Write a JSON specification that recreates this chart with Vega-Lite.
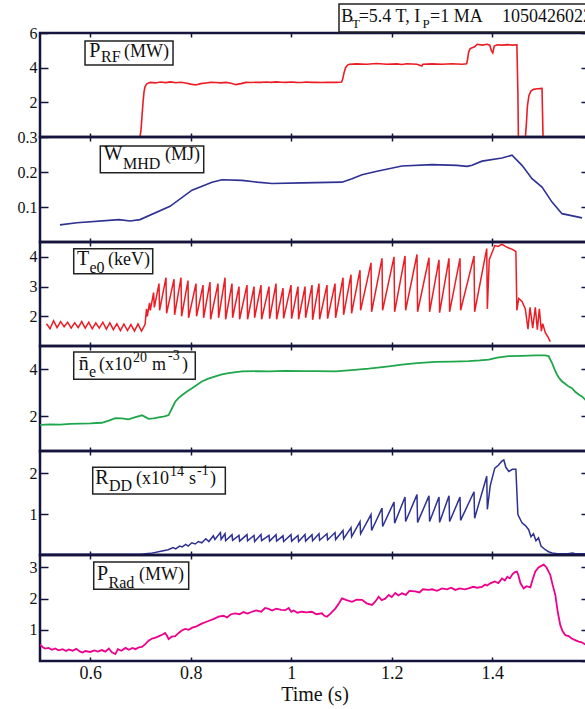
{
"$schema": "https://vega.github.io/schema/vega-lite/v6.json",
"background": "white",
"padding": {"left": 15, "top": 1, "right": 0, "bottom": 0},
"autosize": {"type": "pad"},
"spacing": 0,
"bounds": "flush",
"config": {
  "view": {"stroke": "#14143c", "strokeWidth": 2.5},
  "font": "Liberation Serif",
  "axis": {"domain": false, "grid": false, "tickColor": "#14143c", "tickWidth": 1.5, "labelFont": "Liberation Serif", "labelColor": "#111", "titleFont": "Liberation Serif", "titleFontWeight": "normal", "titleColor": "#111"},
  "axisY": {"tickSize": -8, "labelFontSize": 16, "labelPadding": 11, "labelFont": "Liberation Serif"},
  "axisX": {"tickSize": -4, "labelFontSize": 18, "labelPadding": 7, "labelFont": "Liberation Serif", "titleFont": "Liberation Serif"},
  "text": {"font": "Liberation Serif", "align": "left", "baseline": "alphabetic", "color": "#111"}
},
"datasets": {
  "rf": [{"t":0.5,"v":0},{"t":0.699,"v":0},{"t":0.701,"v":0.4},{"t":0.703,"v":1.2},{"t":0.705,"v":2.0},{"t":0.707,"v":2.6},{"t":0.709,"v":2.9},{"t":0.712,"v":3.05},{"t":0.716,"v":3.12},{"t":0.72,"v":3.15},{"t":0.73,"v":3.12},{"t":0.74,"v":3.17},{"t":0.75,"v":3.14},{"t":0.76,"v":3.18},{"t":0.77,"v":3.13},{"t":0.78,"v":3.16},{"t":0.79,"v":3.12},{"t":0.8,"v":3.05},{"t":0.81,"v":3.0},{"t":0.82,"v":3.08},{"t":0.83,"v":3.12},{"t":0.84,"v":3.15},{"t":0.85,"v":3.14},{"t":0.86,"v":3.12},{"t":0.87,"v":3.15},{"t":0.88,"v":3.1},{"t":0.89,"v":3.02},{"t":0.9,"v":3.08},{"t":0.91,"v":3.15},{"t":0.92,"v":3.14},{"t":0.93,"v":3.16},{"t":0.94,"v":3.15},{"t":0.95,"v":3.17},{"t":0.96,"v":3.15},{"t":0.97,"v":3.18},{"t":0.98,"v":3.16},{"t":0.99,"v":3.15},{"t":1.0,"v":3.17},{"t":1.01,"v":3.15},{"t":1.02,"v":3.14},{"t":1.03,"v":3.17},{"t":1.04,"v":3.15},{"t":1.05,"v":3.16},{"t":1.06,"v":3.14},{"t":1.07,"v":3.16},{"t":1.08,"v":3.15},{"t":1.09,"v":3.15},{"t":1.1,"v":3.17},{"t":1.102,"v":3.3},{"t":1.105,"v":3.7},{"t":1.108,"v":4.0},{"t":1.112,"v":4.15},{"t":1.116,"v":4.2},{"t":1.13,"v":4.22},{"t":1.15,"v":4.2},{"t":1.17,"v":4.24},{"t":1.19,"v":4.2},{"t":1.21,"v":4.22},{"t":1.22,"v":4.18},{"t":1.23,"v":4.23},{"t":1.25,"v":4.2},{"t":1.26,"v":4.1},{"t":1.262,"v":4.2},{"t":1.28,"v":4.22},{"t":1.3,"v":4.2},{"t":1.32,"v":4.23},{"t":1.34,"v":4.2},{"t":1.349,"v":4.22},{"t":1.351,"v":4.5},{"t":1.353,"v":4.9},{"t":1.356,"v":5.1},{"t":1.36,"v":5.15},{"t":1.365,"v":5.2},{"t":1.37,"v":5.35},{"t":1.38,"v":5.3},{"t":1.39,"v":5.35},{"t":1.395,"v":5.3},{"t":1.398,"v":5.0},{"t":1.401,"v":4.85},{"t":1.404,"v":5.25},{"t":1.41,"v":5.32},{"t":1.42,"v":5.3},{"t":1.43,"v":5.33},{"t":1.44,"v":5.3},{"t":1.449,"v":5.32},{"t":1.451,"v":2.5},{"t":1.452,"v":0},{"t":1.466,"v":0},{"t":1.468,"v":0.8},{"t":1.47,"v":1.8},{"t":1.473,"v":2.4},{"t":1.477,"v":2.65},{"t":1.482,"v":2.75},{"t":1.49,"v":2.78},{"t":1.499,"v":2.8},{"t":1.5,"v":1.4},{"t":1.501,"v":0},{"t":1.6,"v":0}],
  "wmhd": [{"t":0.5398,"v":0.049},{"t":0.5736,"v":0.055},{"t":0.6572,"v":0.064},{"t":0.6791,"v":0.06},{"t":0.699,"v":0.064},{"t":0.7587,"v":0.102},{"t":0.8025,"v":0.148},{"t":0.8423,"v":0.171},{"t":0.8622,"v":0.178},{"t":0.902,"v":0.176},{"t":0.9318,"v":0.171},{"t":0.9617,"v":0.167},{"t":1.0214,"v":0.169},{"t":1.101,"v":0.171},{"t":1.1209,"v":0.181},{"t":1.1408,"v":0.192},{"t":1.1706,"v":0.202},{"t":1.2204,"v":0.217},{"t":1.2801,"v":0.221},{"t":1.3299,"v":0.219},{"t":1.3498,"v":0.216},{"t":1.3597,"v":0.219},{"t":1.3796,"v":0.231},{"t":1.4194,"v":0.24},{"t":1.4393,"v":0.248},{"t":1.4592,"v":0.219},{"t":1.4791,"v":0.181},{"t":1.499,"v":0.157},{"t":1.5189,"v":0.114},{"t":1.5388,"v":0.081},{"t":1.5786,"v":0.069}],
  "te": [{"t":0.513,"v":1.75},{"t":0.52,"v":1.58},{"t":0.527,"v":1.85},{"t":0.534,"v":1.62},{"t":0.541,"v":1.82},{"t":0.548,"v":1.65},{"t":0.555,"v":1.8},{"t":0.562,"v":1.6},{"t":0.569,"v":1.78},{"t":0.576,"v":1.62},{"t":0.583,"v":1.82},{"t":0.59,"v":1.6},{"t":0.597,"v":1.8},{"t":0.604,"v":1.58},{"t":0.611,"v":1.78},{"t":0.618,"v":1.6},{"t":0.625,"v":1.8},{"t":0.632,"v":1.57},{"t":0.639,"v":1.78},{"t":0.646,"v":1.55},{"t":0.653,"v":1.75},{"t":0.66,"v":1.52},{"t":0.667,"v":1.74},{"t":0.674,"v":1.52},{"t":0.681,"v":1.72},{"t":0.688,"v":1.5},{"t":0.695,"v":1.74},{"t":0.702,"v":1.5},{"t":0.709,"v":1.72},{"t":0.712,"v":2.25},{"t":0.7135,"v":2.0},{"t":0.718,"v":2.45},{"t":0.7195,"v":2.2},{"t":0.726,"v":2.8},{"t":0.7275,"v":2.3},
  {"t":0.7368,"v":3.1},{"t":0.738,"v":2.2},{"t":0.7507,"v":3.3},{"t":0.7519,"v":2.1},{"t":0.7667,"v":3.25},{"t":0.7679,"v":2.05},{"t":0.7806,"v":3.3},{"t":0.7818,"v":2.0},{"t":0.7945,"v":3.2},{"t":0.7957,"v":1.95},{"t":0.8104,"v":3.1},{"t":0.8116,"v":2.0},{"t":0.8244,"v":3.05},{"t":0.8256,"v":1.95},{"t":0.8383,"v":3.15},{"t":0.8395,"v":1.9},{"t":0.8542,"v":3.1},{"t":0.8554,"v":1.95},{"t":0.8682,"v":3.3},{"t":0.8694,"v":1.9},{"t":0.8821,"v":3.1},{"t":0.8833,"v":1.95},{"t":0.896,"v":3.0},{"t":0.8972,"v":1.9},{"t":0.9119,"v":3.05},{"t":0.9131,"v":1.9},{"t":0.9259,"v":3.0},{"t":0.9271,"v":1.95},{"t":0.9398,"v":3.05},{"t":0.941,"v":1.9},{"t":0.9557,"v":3.0},{"t":0.9569,"v":1.92},{"t":0.9697,"v":3.1},{"t":0.9709,"v":1.9},{"t":0.9836,"v":2.95},{"t":0.9848,"v":1.93},{"t":0.9995,"v":3.05},{"t":1.0007,"v":1.92},{"t":1.0134,"v":3.0},{"t":1.0146,"v":1.9},{"t":1.0274,"v":3.0},{"t":1.0286,"v":1.95},{"t":1.0413,"v":3.05},{"t":1.0425,"v":1.88},{"t":1.0552,"v":3.1},{"t":1.0564,"v":1.9},{"t":1.0711,"v":3.05},{"t":1.0723,"v":1.92},{"t":1.0871,"v":3.1},{"t":1.0883,"v":1.95},{"t":1.103,"v":3.3},{"t":1.1042,"v":2.05},{"t":1.1189,"v":3.4},{"t":1.1201,"v":2.1},{"t":1.1368,"v":3.55},{"t":1.138,"v":2.2},{"t":1.1587,"v":3.8},{"t":1.1599,"v":2.15},{"t":1.1806,"v":3.95},{"t":1.1818,"v":2.2},{"t":1.2045,"v":4.0},{"t":1.2057,"v":2.15},{"t":1.2264,"v":4.03},{"t":1.2276,"v":2.2},{"t":1.2502,"v":4.08},{"t":1.2514,"v":2.15},{"t":1.2741,"v":3.97},{"t":1.2753,"v":2.15},{"t":1.294,"v":3.9},{"t":1.2952,"v":2.12},{"t":1.3139,"v":3.95},{"t":1.3151,"v":2.15},{"t":1.3358,"v":3.95},{"t":1.337,"v":2.2},{"t":1.3637,"v":4.03},{"t":1.3649,"v":2.15},{"t":1.389,"v":4.28},{"t":1.3902,"v":2.25},
  {"t":1.394,"v":3.9},{"t":1.405,"v":4.38},{"t":1.412,"v":4.35},{"t":1.419,"v":4.43},{"t":1.426,"v":4.35},{"t":1.433,"v":4.3},{"t":1.44,"v":4.25},{"t":1.447,"v":4.18},{"t":1.449,"v":2.2},{"t":1.4526,"v":2.6},{"t":1.4592,"v":2.5},{"t":1.4658,"v":2.25},{"t":1.4711,"v":1.57},{"t":1.4751,"v":2.3},{"t":1.4805,"v":1.6},{"t":1.4857,"v":2.3},{"t":1.4897,"v":1.55},{"t":1.4937,"v":2.25},{"t":1.4977,"v":1.5},{"t":1.5004,"v":1.75},{"t":1.5056,"v":1.45},{"t":1.511,"v":1.3},{"t":1.5155,"v":1.15}],
  "ne": [{"t":0.5,"v":1.62},{"t":0.52,"v":1.64},{"t":0.54,"v":1.63},{"t":0.56,"v":1.66},{"t":0.58,"v":1.67},{"t":0.6,"v":1.68},{"t":0.623,"v":1.71},{"t":0.637,"v":1.8},{"t":0.65,"v":1.91},{"t":0.663,"v":1.9},{"t":0.676,"v":1.86},{"t":0.69,"v":1.95},{"t":0.703,"v":2.03},{"t":0.71,"v":1.95},{"t":0.716,"v":1.88},{"t":0.726,"v":1.9},{"t":0.736,"v":1.94},{"t":0.748,"v":1.98},{"t":0.756,"v":2.04},{"t":0.762,"v":2.3},{"t":0.769,"v":2.61},{"t":0.776,"v":2.78},{"t":0.783,"v":2.9},{"t":0.7925,"v":3.05},{"t":0.8025,"v":3.19},{"t":0.812,"v":3.33},{"t":0.822,"v":3.48},{"t":0.835,"v":3.6},{"t":0.849,"v":3.7},{"t":0.862,"v":3.78},{"t":0.8755,"v":3.84},{"t":0.89,"v":3.88},{"t":0.902,"v":3.91},{"t":0.93,"v":3.92},{"t":0.955,"v":3.91},{"t":0.99,"v":3.93},{"t":1.021,"v":3.92},{"t":1.05,"v":3.92},{"t":1.088,"v":3.91},{"t":1.12,"v":3.97},{"t":1.154,"v":4.03},{"t":1.19,"v":4.12},{"t":1.2204,"v":4.2},{"t":1.25,"v":4.27},{"t":1.2867,"v":4.32},{"t":1.32,"v":4.33},{"t":1.353,"v":4.35},{"t":1.375,"v":4.38},{"t":1.393,"v":4.42},{"t":1.41,"v":4.5},{"t":1.4327,"v":4.57},{"t":1.46,"v":4.58},{"t":1.4857,"v":4.6},{"t":1.505,"v":4.6},{"t":1.512,"v":4.57},{"t":1.519,"v":4.27},{"t":1.524,"v":4.0},{"t":1.529,"v":3.77},{"t":1.534,"v":3.6},{"t":1.539,"v":3.48},{"t":1.545,"v":3.38},{"t":1.552,"v":3.26},{"t":1.558,"v":3.2},{"t":1.565,"v":3.04},{"t":1.572,"v":2.92},{"t":1.579,"v":2.83},{"t":1.585,"v":2.7},{"t":1.592,"v":2.58}],
  "rdd": [{"t":0.5,"v":0.02},{"t":0.6,"v":0.02},{"t":0.7,"v":0.02},{"t":0.72,"v":0.04},{"t":0.743,"v":0.1},{"t":0.755,"v":0.13},{"t":0.765,"v":0.18},{"t":0.77,"v":0.15},{"t":0.778,"v":0.22},{"t":0.783,"v":0.2},{"t":0.79,"v":0.26},{"t":0.795,"v":0.22},{"t":0.802,"v":0.3},{"t":0.809,"v":0.27},{"t":0.815,"v":0.33},{"t":0.822,"v":0.3},{"t":0.83,"v":0.4},{"t":0.836,"v":0.33},{"t":0.845,"v":0.47},{"t":0.848,"v":0.38},{"t":0.859,"v":0.55},{"t":0.8605,"v":0.38},
  {"t":0.8682,"v":0.52},{"t":0.8694,"v":0.35},{"t":0.8821,"v":0.5},{"t":0.8833,"v":0.36},{"t":0.896,"v":0.48},{"t":0.8972,"v":0.34},{"t":0.9119,"v":0.5},{"t":0.9131,"v":0.35},{"t":0.9259,"v":0.48},{"t":0.9271,"v":0.33},{"t":0.9398,"v":0.5},{"t":0.941,"v":0.35},{"t":0.9557,"v":0.48},{"t":0.9569,"v":0.34},{"t":0.9697,"v":0.5},{"t":0.9709,"v":0.34},{"t":0.9836,"v":0.47},{"t":0.9848,"v":0.33},{"t":0.9995,"v":0.5},{"t":1.0007,"v":0.34},{"t":1.0134,"v":0.48},{"t":1.0146,"v":0.33},{"t":1.0274,"v":0.5},{"t":1.0286,"v":0.34},{"t":1.0413,"v":0.5},{"t":1.0425,"v":0.35},{"t":1.0552,"v":0.52},{"t":1.0564,"v":0.36},{"t":1.0711,"v":0.52},{"t":1.0723,"v":0.37},{"t":1.0871,"v":0.55},{"t":1.0883,"v":0.38},{"t":1.103,"v":0.6},{"t":1.1042,"v":0.4},{"t":1.1189,"v":0.67},{"t":1.1201,"v":0.45},{"t":1.1368,"v":0.82},{"t":1.138,"v":0.52},{"t":1.1587,"v":0.99},{"t":1.1599,"v":0.6},{"t":1.1806,"v":1.15},{"t":1.1818,"v":0.7},{"t":1.2045,"v":1.3},{"t":1.2057,"v":0.78},{"t":1.2264,"v":1.42},{"t":1.2276,"v":0.82},{"t":1.2502,"v":1.48},{"t":1.2514,"v":0.8},{"t":1.2741,"v":1.45},{"t":1.2753,"v":0.82},{"t":1.294,"v":1.42},{"t":1.2952,"v":0.8},{"t":1.3139,"v":1.45},{"t":1.3151,"v":0.82},{"t":1.3358,"v":1.42},{"t":1.337,"v":0.85},{"t":1.3637,"v":1.55},{"t":1.3649,"v":0.9},{"t":1.389,"v":1.93},{"t":1.3902,"v":1.12},
  {"t":1.396,"v":1.7},{"t":1.405,"v":2.13},{"t":1.412,"v":2.2},{"t":1.419,"v":2.3},{"t":1.423,"v":2.33},{"t":1.427,"v":2.15},{"t":1.433,"v":2.05},{"t":1.44,"v":2.1},{"t":1.447,"v":2.1},{"t":1.451,"v":0.99},{"t":1.4592,"v":0.79},{"t":1.466,"v":0.72},{"t":1.4725,"v":0.62},{"t":1.477,"v":0.45},{"t":1.482,"v":0.52},{"t":1.487,"v":0.35},{"t":1.492,"v":0.42},{"t":1.497,"v":0.22},{"t":1.5056,"v":0.13},{"t":1.512,"v":0.08},{"t":1.519,"v":0.05},{"t":1.53,"v":0.03},{"t":1.55,"v":0.03},{"t":1.56,"v":0.05},{"t":1.565,"v":0.03},{"t":1.59,"v":0.03}],
  "prad": [{"t":0.5,"v":0.53},{"t":0.505,"v":0.45},{"t":0.51,"v":0.4},{"t":0.517,"v":0.42},{"t":0.524,"v":0.36},{"t":0.53,"v":0.4},{"t":0.537,"v":0.34},{"t":0.545,"v":0.38},{"t":0.552,"v":0.32},{"t":0.557,"v":0.37},{"t":0.565,"v":0.33},{"t":0.572,"v":0.39},{"t":0.58,"v":0.3},{"t":0.585,"v":0.27},{"t":0.59,"v":0.32},{"t":0.6,"v":0.29},{"t":0.608,"v":0.34},{"t":0.615,"v":0.3},{"t":0.623,"v":0.35},{"t":0.63,"v":0.3},{"t":0.637,"v":0.4},{"t":0.643,"v":0.28},{"t":0.65,"v":0.22},{"t":0.655,"v":0.38},{"t":0.662,"v":0.33},{"t":0.67,"v":0.42},{"t":0.677,"v":0.36},{"t":0.684,"v":0.42},{"t":0.69,"v":0.38},{"t":0.697,"v":0.44},{"t":0.703,"v":0.45},{"t":0.71,"v":0.55},{"t":0.716,"v":0.65},{"t":0.723,"v":0.72},{"t":0.73,"v":0.75},{"t":0.737,"v":0.8},{"t":0.744,"v":0.85},{"t":0.749,"v":0.9},{"t":0.753,"v":0.8},{"t":0.756,"v":0.7},{"t":0.762,"v":0.78},{"t":0.769,"v":0.8},{"t":0.776,"v":0.9},{"t":0.782,"v":0.98},{"t":0.789,"v":1.03},{"t":0.796,"v":1.0},{"t":0.803,"v":1.07},{"t":0.81,"v":1.1},{"t":0.816,"v":1.15},{"t":0.822,"v":1.2},{"t":0.83,"v":1.25},{"t":0.838,"v":1.3},{"t":0.846,"v":1.35},{"t":0.8556,"v":1.42},{"t":0.865,"v":1.45},{"t":0.872,"v":1.4},{"t":0.88,"v":1.5},{"t":0.8887,"v":1.53},{"t":0.897,"v":1.5},{"t":0.905,"v":1.57},{"t":0.913,"v":1.52},{"t":0.9219,"v":1.58},{"t":0.93,"v":1.62},{"t":0.94,"v":1.58},{"t":0.948,"v":1.7},{"t":0.955,"v":1.67},{"t":0.962,"v":1.62},{"t":0.97,"v":1.68},{"t":0.98,"v":1.64},{"t":0.988,"v":1.63},{"t":0.995,"v":1.7},{"t":1.0,"v":1.58},{"t":1.005,"v":1.62},{"t":1.012,"v":1.55},{"t":1.021,"v":1.58},{"t":1.03,"v":1.56},{"t":1.041,"v":1.58},{"t":1.05,"v":1.5},{"t":1.061,"v":1.53},{"t":1.066,"v":1.45},{"t":1.071,"v":1.42},{"t":1.078,"v":1.52},{"t":1.088,"v":1.69},{"t":1.095,"v":1.85},{"t":1.101,"v":2.01},{"t":1.11,"v":1.95},{"t":1.1209,"v":1.9},{"t":1.13,"v":1.97},{"t":1.1408,"v":1.96},{"t":1.15,"v":1.85},{"t":1.1607,"v":1.8},{"t":1.167,"v":1.9},{"t":1.174,"v":2.06},{"t":1.18,"v":1.95},{"t":1.187,"v":2.0},{"t":1.194,"v":2.12},{"t":1.2,"v":2.05},{"t":1.207,"v":2.18},{"t":1.213,"v":2.1},{"t":1.2204,"v":2.17},{"t":1.228,"v":2.12},{"t":1.235,"v":2.25},{"t":1.2469,"v":2.23},{"t":1.255,"v":2.2},{"t":1.262,"v":2.3},{"t":1.2735,"v":2.28},{"t":1.28,"v":2.3},{"t":1.29,"v":2.25},{"t":1.3,"v":2.33},{"t":1.31,"v":2.3},{"t":1.318,"v":2.35},{"t":1.3265,"v":2.28},{"t":1.335,"v":2.33},{"t":1.345,"v":2.3},{"t":1.353,"v":2.33},{"t":1.362,"v":2.38},{"t":1.37,"v":2.35},{"t":1.3796,"v":2.38},{"t":1.386,"v":2.45},{"t":1.39,"v":2.42},{"t":1.3961,"v":2.49},{"t":1.405,"v":2.55},{"t":1.412,"v":2.5},{"t":1.4194,"v":2.65},{"t":1.425,"v":2.58},{"t":1.43,"v":2.7},{"t":1.435,"v":2.65},{"t":1.44,"v":2.78},{"t":1.445,"v":2.85},{"t":1.449,"v":2.87},{"t":1.452,"v":2.75},{"t":1.456,"v":2.5},{"t":1.4625,"v":2.33},{"t":1.468,"v":2.4},{"t":1.4758,"v":2.36},{"t":1.48,"v":2.6},{"t":1.4857,"v":2.87},{"t":1.492,"v":3.0},{"t":1.4975,"v":3.05},{"t":1.5024,"v":3.09},{"t":1.508,"v":3.0},{"t":1.5155,"v":2.76},{"t":1.52,"v":2.45},{"t":1.5255,"v":2.12},{"t":1.53,"v":1.6},{"t":1.5354,"v":1.15},{"t":1.54,"v":0.95},{"t":1.5454,"v":0.83},{"t":1.552,"v":0.8},{"t":1.558,"v":0.72},{"t":1.565,"v":0.67},{"t":1.572,"v":0.62},{"t":1.578,"v":0.6},{"t":1.585,"v":0.53},{"t":1.592,"v":0.5}],
  "box": [{"p":1,"t1":0.5896,"t2":0.7647,"v1":4.15,"v2":5.54},{"p":1,"t1":1.095,"t2":1.65,"v1":6.06,"v2":7.675},{"p":2,"t1":0.62,"t2":0.8258,"v1":0.198,"v2":0.2743},{"p":3,"t1":0.5671,"t2":0.7243,"v1":3.433,"v2":4.274},{"p":4,"t1":0.5671,"t2":0.809,"v1":3.573,"v2":4.743},{"p":5,"t1":0.6049,"t2":0.8688,"v1":1.496,"v2":2.15},{"p":6,"t1":0.6069,"t2":0.7959,"v1":2.3,"v2":3.175}],
  "big": [{"p":1,"t":0.5981,"v":4.62,"s":"P"},{"p":2,"t":0.6268,"v":0.2334,"s":"W"},{"p":3,"t":0.5736,"v":3.736,"s":"T"},{"p":4,"t":0.577,"v":3.984,"s":"n̄"},{"p":5,"t":0.61,"v":1.741,"s":"R"},{"p":6,"t":0.6134,"v":2.608,"s":"P"}],
  "sub": [{"p":1,"t":0.6214,"v":4.33,"s":"RF"},{"p":2,"t":0.6652,"v":0.2094,"s":"MHD"},{"p":3,"t":0.5985,"v":3.467,"s":"e0"},{"p":4,"t":0.5975,"v":3.671,"s":"e"},{"p":5,"t":0.6373,"v":1.576,"s":"DD"},{"p":6,"t":0.6363,"v":2.351,"s":"Rad"}],
  "unit": [{"p":1,"t":0.6672,"v":4.62,"s":"(MW)"},{"p":2,"t":0.7488,"v":0.2334,"s":"(MJ)"},{"p":3,"t":0.6353,"v":3.736,"s":"(keV)"},{"p":4,"t":0.6174,"v":3.984,"s":"(x10"},{"p":4,"t":0.7229,"v":3.984,"s":"m"},{"p":4,"t":0.7826,"v":3.984,"s":")"},{"p":5,"t":0.691,"v":1.741,"s":"(x10"},{"p":5,"t":0.7965,"v":1.741,"s":"s"},{"p":5,"t":0.8383,"v":1.741,"s":")"},{"p":6,"t":0.697,"v":2.608,"s":"(MW)"}],
  "sup": [{"p":4,"t":0.6851,"v":4.314,"s":"20"},{"p":4,"t":0.7547,"v":4.387,"s":"-3"},{"p":5,"t":0.7587,"v":1.944,"s":"14"},{"p":5,"t":0.8124,"v":1.969,"s":"-1"}],
  "head": [{"t":1.0996,"v":6.636,"s":"B"},{"t":1.1342,"v":6.636,"s":"=5.4 T, I"},{"t":1.2761,"v":6.636,"s":"=1 MA"},{"t":1.4194,"v":6.636,"s":"1050426022"}],
  "headsub": [{"t":1.1209,"v":6.29,"s":"T"},{"t":1.2612,"v":6.29,"s":"P"}]
},
"vconcat": [
 {"width": 549, "height": 104,
  "resolve": {"axis": {"x": "independent", "y": "independent"}},
  "layer": [
   {"data": {"name": "rf"}, "mark": {"type": "line", "color": "#ec1c24", "strokeWidth": 1.6, "clip": true},
    "encoding": {"x": {"field": "t", "type": "quantitative", "scale": {"domain": [0.5, 1.5925]}, "axis": {"orient": "bottom", "values": [0.6,0.8,1,1.2,1.4], "labels": false, "title": null}},
                 "y": {"field": "v", "type": "quantitative", "scale": {"domain": [0, 6]}, "axis": {"orient": "left", "values": [2,4,6], "format": "~g", "title": null}}}},
   {"data": {"name": "box"}, "transform": [{"filter": "datum.p == 1"}], "mark": {"type": "rect", "fill": "white", "stroke": "#222", "strokeWidth": 1.5},
    "encoding": {"x": {"field": "t1", "type": "quantitative", "scale": {"domain": [0.5, 1.5925]}, "axis": {"orient": "top", "values": [0.6,0.8,1,1.2,1.4], "labels": false, "title": null}}, "x2": {"field": "t2"},
                 "y": {"field": "v1", "type": "quantitative", "scale": {"domain": [0, 6]}, "axis": {"orient": "right", "values": [2,4,6], "labels": false, "title": null}}, "y2": {"field": "v2"}}},
   {"data": {"name": "big"}, "transform": [{"filter": "datum.p == 1"}], "mark": {"type": "text", "fontSize": 20},
    "encoding": {"x": {"field": "t", "type": "quantitative", "scale": {"domain": [0.5, 1.5925]}, "axis": null}, "y": {"field": "v", "type": "quantitative", "scale": {"domain": [0, 6]}, "axis": null}, "text": {"field": "s"}}},
   {"data": {"name": "sub"}, "transform": [{"filter": "datum.p == 1"}], "mark": {"type": "text", "fontSize": 16},
    "encoding": {"x": {"field": "t", "type": "quantitative", "scale": {"domain": [0.5, 1.5925]}, "axis": null}, "y": {"field": "v", "type": "quantitative", "scale": {"domain": [0, 6]}, "axis": null}, "text": {"field": "s"}}},
   {"data": {"name": "unit"}, "transform": [{"filter": "datum.p == 1"}], "mark": {"type": "text", "fontSize": 18},
    "encoding": {"x": {"field": "t", "type": "quantitative", "scale": {"domain": [0.5, 1.5925]}, "axis": null}, "y": {"field": "v", "type": "quantitative", "scale": {"domain": [0, 6]}, "axis": null}, "text": {"field": "s"}}},
   {"data": {"name": "head"}, "mark": {"type": "text", "fontSize": 18},
    "encoding": {"x": {"field": "t", "type": "quantitative", "scale": {"domain": [0.5, 1.5925]}, "axis": null}, "y": {"field": "v", "type": "quantitative", "scale": {"domain": [0, 6]}, "axis": null}, "text": {"field": "s"}}},
   {"data": {"name": "headsub"}, "mark": {"type": "text", "fontSize": 13},
    "encoding": {"x": {"field": "t", "type": "quantitative", "scale": {"domain": [0.5, 1.5925]}, "axis": null}, "y": {"field": "v", "type": "quantitative", "scale": {"domain": [0, 6]}, "axis": null}, "text": {"field": "s"}}}
  ]},
 {"width": 549, "height": 105,
  "resolve": {"axis": {"x": "independent", "y": "independent"}},
  "layer": [
   {"data": {"name": "wmhd"}, "mark": {"type": "line", "color": "#2e3192", "strokeWidth": 1.6, "clip": true},
    "encoding": {"x": {"field": "t", "type": "quantitative", "scale": {"domain": [0.5, 1.5925]}, "axis": {"orient": "bottom", "values": [0.6,0.8,1,1.2,1.4], "labels": false, "title": null}},
                 "y": {"field": "v", "type": "quantitative", "scale": {"domain": [0, 0.3]}, "axis": {"orient": "left", "values": [0.1,0.2,0.3], "format": "~g", "title": null}}}},
   {"data": {"name": "box"}, "transform": [{"filter": "datum.p == 2"}], "mark": {"type": "rect", "fill": "white", "stroke": "#222", "strokeWidth": 1.5},
    "encoding": {"x": {"field": "t1", "type": "quantitative", "scale": {"domain": [0.5, 1.5925]}, "axis": {"orient": "top", "values": [0.6,0.8,1,1.2,1.4], "labels": false, "title": null}}, "x2": {"field": "t2"},
                 "y": {"field": "v1", "type": "quantitative", "scale": {"domain": [0, 0.3]}, "axis": {"orient": "right", "values": [0.1,0.2,0.3], "labels": false, "title": null}}, "y2": {"field": "v2"}}},
   {"data": {"name": "big"}, "transform": [{"filter": "datum.p == 2"}], "mark": {"type": "text", "fontSize": 20},
    "encoding": {"x": {"field": "t", "type": "quantitative", "scale": {"domain": [0.5, 1.5925]}, "axis": null}, "y": {"field": "v", "type": "quantitative", "scale": {"domain": [0, 0.3]}, "axis": null}, "text": {"field": "s"}}},
   {"data": {"name": "sub"}, "transform": [{"filter": "datum.p == 2"}], "mark": {"type": "text", "fontSize": 16},
    "encoding": {"x": {"field": "t", "type": "quantitative", "scale": {"domain": [0.5, 1.5925]}, "axis": null}, "y": {"field": "v", "type": "quantitative", "scale": {"domain": [0, 0.3]}, "axis": null}, "text": {"field": "s"}}},
   {"data": {"name": "unit"}, "transform": [{"filter": "datum.p == 2"}], "mark": {"type": "text", "fontSize": 18},
    "encoding": {"x": {"field": "t", "type": "quantitative", "scale": {"domain": [0.5, 1.5925]}, "axis": null}, "y": {"field": "v", "type": "quantitative", "scale": {"domain": [0, 0.3]}, "axis": null}, "text": {"field": "s"}}}
  ]},
 {"width": 549, "height": 104,
  "resolve": {"axis": {"x": "independent", "y": "independent"}},
  "layer": [
   {"data": {"name": "te"}, "mark": {"type": "line", "color": "#ec1c24", "strokeWidth": 1.5, "clip": true},
    "encoding": {"x": {"field": "t", "type": "quantitative", "scale": {"domain": [0.5, 1.5925]}, "axis": {"orient": "bottom", "values": [0.6,0.8,1,1.2,1.4], "labels": false, "title": null}},
                 "y": {"field": "v", "type": "quantitative", "scale": {"domain": [1, 4.5]}, "axis": {"orient": "left", "values": [2,3,4], "format": "~g", "title": null}}}},
   {"data": {"name": "box"}, "transform": [{"filter": "datum.p == 3"}], "mark": {"type": "rect", "fill": "white", "stroke": "#222", "strokeWidth": 1.5},
    "encoding": {"x": {"field": "t1", "type": "quantitative", "scale": {"domain": [0.5, 1.5925]}, "axis": {"orient": "top", "values": [0.6,0.8,1,1.2,1.4], "labels": false, "title": null}}, "x2": {"field": "t2"},
                 "y": {"field": "v1", "type": "quantitative", "scale": {"domain": [1, 4.5]}, "axis": {"orient": "right", "values": [2,3,4], "labels": false, "title": null}}, "y2": {"field": "v2"}}},
   {"data": {"name": "big"}, "transform": [{"filter": "datum.p == 3"}], "mark": {"type": "text", "fontSize": 20},
    "encoding": {"x": {"field": "t", "type": "quantitative", "scale": {"domain": [0.5, 1.5925]}, "axis": null}, "y": {"field": "v", "type": "quantitative", "scale": {"domain": [1, 4.5]}, "axis": null}, "text": {"field": "s"}}},
   {"data": {"name": "sub"}, "transform": [{"filter": "datum.p == 3"}], "mark": {"type": "text", "fontSize": 16},
    "encoding": {"x": {"field": "t", "type": "quantitative", "scale": {"domain": [0.5, 1.5925]}, "axis": null}, "y": {"field": "v", "type": "quantitative", "scale": {"domain": [1, 4.5]}, "axis": null}, "text": {"field": "s"}}},
   {"data": {"name": "unit"}, "transform": [{"filter": "datum.p == 3"}], "mark": {"type": "text", "fontSize": 18},
    "encoding": {"x": {"field": "t", "type": "quantitative", "scale": {"domain": [0.5, 1.5925]}, "axis": null}, "y": {"field": "v", "type": "quantitative", "scale": {"domain": [1, 4.5]}, "axis": null}, "text": {"field": "s"}}}
  ]},
 {"width": 549, "height": 105,
  "resolve": {"axis": {"x": "independent", "y": "independent"}},
  "layer": [
   {"data": {"name": "ne"}, "mark": {"type": "line", "color": "#1fa64b", "strokeWidth": 1.8, "clip": true},
    "encoding": {"x": {"field": "t", "type": "quantitative", "scale": {"domain": [0.5, 1.5925]}, "axis": {"orient": "bottom", "values": [0.6,0.8,1,1.2,1.4], "labels": false, "title": null}},
                 "y": {"field": "v", "type": "quantitative", "scale": {"domain": [0.5, 5]}, "axis": {"orient": "left", "values": [2,4], "format": "~g", "title": null}}}},
   {"data": {"name": "box"}, "transform": [{"filter": "datum.p == 4"}], "mark": {"type": "rect", "fill": "white", "stroke": "#222", "strokeWidth": 1.5},
    "encoding": {"x": {"field": "t1", "type": "quantitative", "scale": {"domain": [0.5, 1.5925]}, "axis": {"orient": "top", "values": [0.6,0.8,1,1.2,1.4], "labels": false, "title": null}}, "x2": {"field": "t2"},
                 "y": {"field": "v1", "type": "quantitative", "scale": {"domain": [0.5, 5]}, "axis": {"orient": "right", "values": [2,4], "labels": false, "title": null}}, "y2": {"field": "v2"}}},
   {"data": {"name": "big"}, "transform": [{"filter": "datum.p == 4"}], "mark": {"type": "text", "fontSize": 20},
    "encoding": {"x": {"field": "t", "type": "quantitative", "scale": {"domain": [0.5, 1.5925]}, "axis": null}, "y": {"field": "v", "type": "quantitative", "scale": {"domain": [0.5, 5]}, "axis": null}, "text": {"field": "s"}}},
   {"data": {"name": "sub"}, "transform": [{"filter": "datum.p == 4"}], "mark": {"type": "text", "fontSize": 16},
    "encoding": {"x": {"field": "t", "type": "quantitative", "scale": {"domain": [0.5, 1.5925]}, "axis": null}, "y": {"field": "v", "type": "quantitative", "scale": {"domain": [0.5, 5]}, "axis": null}, "text": {"field": "s"}}},
   {"data": {"name": "unit"}, "transform": [{"filter": "datum.p == 4"}], "mark": {"type": "text", "fontSize": 18},
    "encoding": {"x": {"field": "t", "type": "quantitative", "scale": {"domain": [0.5, 1.5925]}, "axis": null}, "y": {"field": "v", "type": "quantitative", "scale": {"domain": [0.5, 5]}, "axis": null}, "text": {"field": "s"}}},
   {"data": {"name": "sup"}, "transform": [{"filter": "datum.p == 4"}], "mark": {"type": "text", "fontSize": 14},
    "encoding": {"x": {"field": "t", "type": "quantitative", "scale": {"domain": [0.5, 1.5925]}, "axis": null}, "y": {"field": "v", "type": "quantitative", "scale": {"domain": [0.5, 5]}, "axis": null}, "text": {"field": "s"}}}
  ]},
 {"width": 549, "height": 104,
  "resolve": {"axis": {"x": "independent", "y": "independent"}},
  "layer": [
   {"data": {"name": "rdd"}, "mark": {"type": "line", "color": "#2e3192", "strokeWidth": 1.5, "clip": true},
    "encoding": {"x": {"field": "t", "type": "quantitative", "scale": {"domain": [0.5, 1.5925]}, "axis": {"orient": "bottom", "values": [0.6,0.8,1,1.2,1.4], "labels": false, "title": null}},
                 "y": {"field": "v", "type": "quantitative", "scale": {"domain": [0, 2.55]}, "axis": {"orient": "left", "values": [1,2], "format": "~g", "title": null}}}},
   {"data": {"name": "box"}, "transform": [{"filter": "datum.p == 5"}], "mark": {"type": "rect", "fill": "white", "stroke": "#222", "strokeWidth": 1.5},
    "encoding": {"x": {"field": "t1", "type": "quantitative", "scale": {"domain": [0.5, 1.5925]}, "axis": {"orient": "top", "values": [0.6,0.8,1,1.2,1.4], "labels": false, "title": null}}, "x2": {"field": "t2"},
                 "y": {"field": "v1", "type": "quantitative", "scale": {"domain": [0, 2.55]}, "axis": {"orient": "right", "values": [1,2], "labels": false, "title": null}}, "y2": {"field": "v2"}}},
   {"data": {"name": "big"}, "transform": [{"filter": "datum.p == 5"}], "mark": {"type": "text", "fontSize": 20},
    "encoding": {"x": {"field": "t", "type": "quantitative", "scale": {"domain": [0.5, 1.5925]}, "axis": null}, "y": {"field": "v", "type": "quantitative", "scale": {"domain": [0, 2.55]}, "axis": null}, "text": {"field": "s"}}},
   {"data": {"name": "sub"}, "transform": [{"filter": "datum.p == 5"}], "mark": {"type": "text", "fontSize": 16},
    "encoding": {"x": {"field": "t", "type": "quantitative", "scale": {"domain": [0.5, 1.5925]}, "axis": null}, "y": {"field": "v", "type": "quantitative", "scale": {"domain": [0, 2.55]}, "axis": null}, "text": {"field": "s"}}},
   {"data": {"name": "unit"}, "transform": [{"filter": "datum.p == 5"}], "mark": {"type": "text", "fontSize": 18},
    "encoding": {"x": {"field": "t", "type": "quantitative", "scale": {"domain": [0.5, 1.5925]}, "axis": null}, "y": {"field": "v", "type": "quantitative", "scale": {"domain": [0, 2.55]}, "axis": null}, "text": {"field": "s"}}},
   {"data": {"name": "sup"}, "transform": [{"filter": "datum.p == 5"}], "mark": {"type": "text", "fontSize": 14},
    "encoding": {"x": {"field": "t", "type": "quantitative", "scale": {"domain": [0.5, 1.5925]}, "axis": null}, "y": {"field": "v", "type": "quantitative", "scale": {"domain": [0, 2.55]}, "axis": null}, "text": {"field": "s"}}}
  ]},
 {"width": 549, "height": 106,
  "resolve": {"axis": {"x": "independent", "y": "independent"}},
  "layer": [
   {"data": {"name": "prad"}, "mark": {"type": "line", "color": "#ec008c", "strokeWidth": 1.8, "clip": true},
    "encoding": {"x": {"field": "t", "type": "quantitative", "scale": {"domain": [0.5, 1.5925]}, "axis": {"orient": "bottom", "values": [0.6,0.8,1,1.2,1.4], "format": "~g", "title": "Time (s)", "titleFont": "Liberation Serif", "labelFont": "Liberation Serif", "titleFontSize": 20, "titlePadding": 2}},
                 "y": {"field": "v", "type": "quantitative", "scale": {"domain": [0, 3.4]}, "axis": {"orient": "left", "values": [1,2,3], "format": "~g", "title": null}}}},
   {"data": {"name": "box"}, "transform": [{"filter": "datum.p == 6"}], "mark": {"type": "rect", "fill": "white", "stroke": "#222", "strokeWidth": 1.5},
    "encoding": {"x": {"field": "t1", "type": "quantitative", "scale": {"domain": [0.5, 1.5925]}, "axis": {"orient": "top", "values": [0.6,0.8,1,1.2,1.4], "labels": false, "title": null}}, "x2": {"field": "t2"},
                 "y": {"field": "v1", "type": "quantitative", "scale": {"domain": [0, 3.4]}, "axis": {"orient": "right", "values": [0,1,2,3], "labels": false, "title": null}}, "y2": {"field": "v2"}}},
   {"data": {"name": "big"}, "transform": [{"filter": "datum.p == 6"}], "mark": {"type": "text", "fontSize": 20},
    "encoding": {"x": {"field": "t", "type": "quantitative", "scale": {"domain": [0.5, 1.5925]}, "axis": null}, "y": {"field": "v", "type": "quantitative", "scale": {"domain": [0, 3.4]}, "axis": null}, "text": {"field": "s"}}},
   {"data": {"name": "sub"}, "transform": [{"filter": "datum.p == 6"}], "mark": {"type": "text", "fontSize": 16},
    "encoding": {"x": {"field": "t", "type": "quantitative", "scale": {"domain": [0.5, 1.5925]}, "axis": null}, "y": {"field": "v", "type": "quantitative", "scale": {"domain": [0, 3.4]}, "axis": null}, "text": {"field": "s"}}},
   {"data": {"name": "unit"}, "transform": [{"filter": "datum.p == 6"}], "mark": {"type": "text", "fontSize": 18},
    "encoding": {"x": {"field": "t", "type": "quantitative", "scale": {"domain": [0.5, 1.5925]}, "axis": null}, "y": {"field": "v", "type": "quantitative", "scale": {"domain": [0, 3.4]}, "axis": null}, "text": {"field": "s"}}}
  ]}
]
}
